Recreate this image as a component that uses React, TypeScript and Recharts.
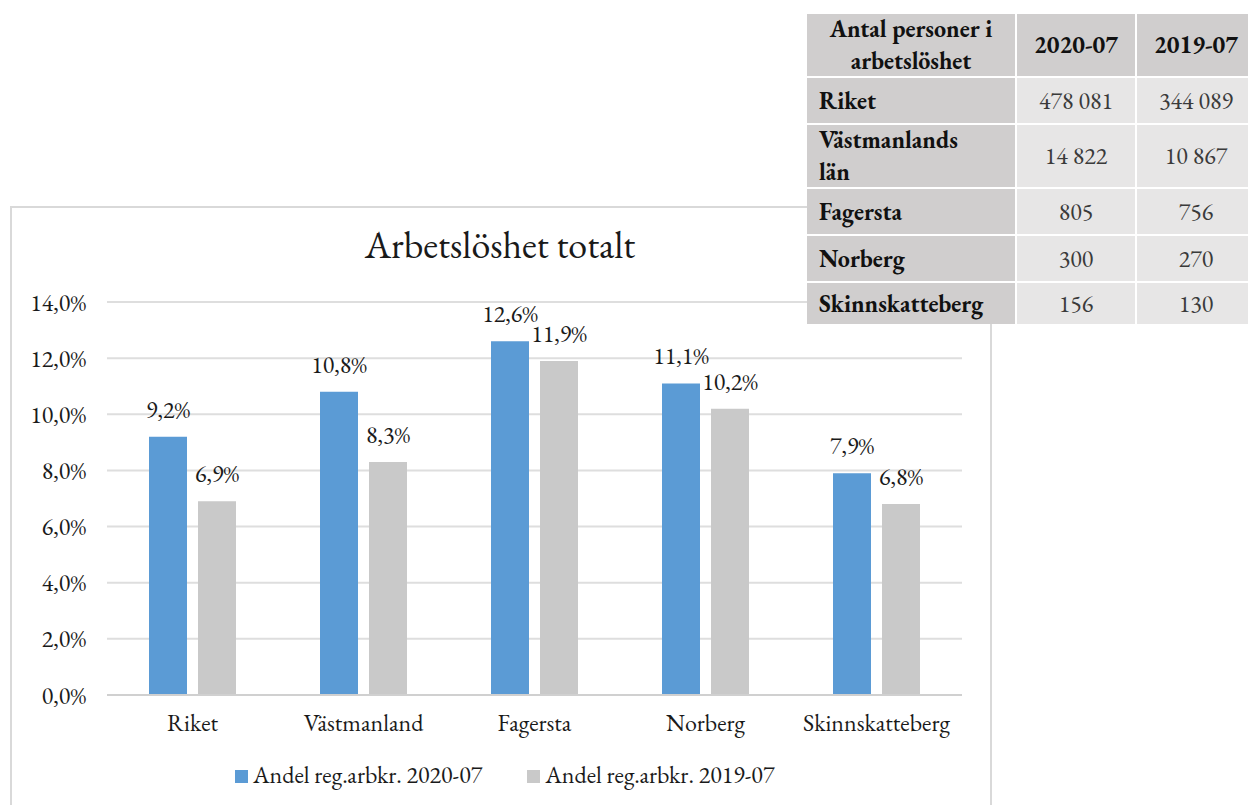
import React from "react";
import { BarChart, Bar, XAxis, YAxis, CartesianGrid, Legend, LabelList } from "recharts";

const categories = ["Riket", "Västmanland", "Fagersta", "Norberg", "Skinnskatteberg"];
const share2020 = [9.2, 10.8, 12.6, 11.1, 7.9];
const share2019 = [6.9, 8.3, 11.9, 10.2, 6.8];
const yTicks = [0, 2, 4, 6, 8, 10, 12, 14];
const seriesNames = ["Andel reg.arbkr. 2020-07", "Andel reg.arbkr. 2019-07"];

const tableHeader = ["Antal personer i\narbetslöshet", "2020-07", "2019-07"];
const tableRows = ["Riket", "Västmanlands\nlän", "Fagersta", "Norberg", "Skinnskatteberg"];
const persons2020 = ["478 081", "14 822", "805", "300", "156"];
const persons2019 = ["344 089", "10 867", "756", "270", "130"];

const data = categories.map((c, i) => ({ name: c, a: share2020[i], b: share2019[i] }));

const FONT = '"EB Garamond", "Liberation Serif", serif';
const BLUE = "#5b9bd5";
const GRAY = "#c9c9c9";
const TXT = "#1a1a1a";
const FS = 24;
const fmt = (v: number) => `${v.toFixed(1).replace(".", ",")}%`;

const LegendContent = () => (
  <div style={{ fontFamily: FONT, fontSize: FS, lineHeight: "26px", color: TXT, whiteSpace: "nowrap" }}>
    {seriesNames.map((n, i) => (
      <span key={n} style={{ marginRight: i === 0 ? 45 : 0 }}>
        <span
          style={{
            display: "inline-block",
            width: 13,
            height: 13,
            background: i === 0 ? BLUE : GRAY,
            marginRight: 5,
            verticalAlign: "baseline",
          }}
        />
        {n}
      </span>
    ))}
  </div>
);

const multiline = (s: string) =>
  s.split("\n").map((p, i, arr) => (
    <React.Fragment key={i}>
      {p}
      {i < arr.length - 1 ? <br /> : null}
    </React.Fragment>
  ));

const darkCell = "#d0cece";
const lightCell = "#e7e6e6";

export default function App() {
  const rowHeights = [62, 45, 62, 45, 45, 41];
  return (
    <div style={{ position: "absolute", left: 0, top: 0, width: 1248, height: 805, overflow: "hidden", background: "#fff" }}>
      <div
        style={{
          position: "absolute",
          left: 10,
          top: 206,
          width: 982,
          height: 700,
          border: "2px solid #d9d9d9",
          boxSizing: "border-box",
        }}
      />
      <div
        style={{
          position: "absolute",
          left: 300,
          width: 400,
          top: 226,
          textAlign: "center",
          fontFamily: FONT,
          fontSize: 38,
          lineHeight: "38px",
          color: TXT,
        }}
      >
        Arbetslöshet totalt
      </div>
      <div style={{ position: "absolute", left: 0, top: 0 }}>
        <BarChart
          width={1000}
          height={805}
          data={data}
          margin={{ top: 302, right: 38, left: 0, bottom: 40 }}
          barSize={38}
          barGap={11}
        >
          <CartesianGrid vertical={false} stroke="#dedede" strokeWidth={2} />
          <XAxis
            dataKey="name"
            height={30}
            tickLine={false}
            tickSize={0}
            tickMargin={19}
            axisLine={{ stroke: "#d0d0d0", strokeWidth: 2 }}
            tick={{ fontFamily: FONT, fontSize: FS, fill: TXT }}
            interval={0}
          />
          <YAxis
            width={107}
            domain={[0, 14]}
            ticks={yTicks}
            tickFormatter={fmt}
            axisLine={false}
            tickLine={false}
            tickSize={0}
            tickMargin={21}
            tick={{ fontFamily: FONT, fontSize: FS, fill: TXT }}
            interval={0}
          />
          <Legend
            height={40}
            content={<LegendContent />}
            wrapperStyle={{ left: 235, top: 762, width: 700, height: 40 }}
          />
          <Bar dataKey="a" name={seriesNames[0]} fill={BLUE} isAnimationActive={false}>
            <LabelList dataKey="a" position="top" offset={19} formatter={fmt} style={{ fontFamily: FONT, fontSize: FS, fill: TXT }} />
          </Bar>
          <Bar dataKey="b" name={seriesNames[1]} fill={GRAY} isAnimationActive={false}>
            <LabelList dataKey="b" position="top" offset={19} formatter={fmt} style={{ fontFamily: FONT, fontSize: FS, fill: TXT }} />
          </Bar>
        </BarChart>
      </div>
      <div
        style={{
          position: "absolute",
          left: 807,
          top: 14,
          display: "grid",
          gridTemplateColumns: "208px 118px 118px",
          gridTemplateRows: rowHeights.map((h) => `${h}px`).join(" "),
          columnGap: 2,
          rowGap: 2,
          fontFamily: FONT,
          fontSize: FS,
          lineHeight: "32px",
          background: "#fff",
        }}
      >
        {tableHeader.map((h, i) => (
          <div
            key={"h" + i}
            style={{
              background: darkCell,
              fontWeight: "bold",
              color: "#111",
              display: "flex",
              alignItems: "center",
              justifyContent: "center",
              textAlign: "center",
            }}
          >
            <div>{multiline(h)}</div>
          </div>
        ))}
        {tableRows.map((r, i) => (
          <React.Fragment key={r}>
            <div
              style={{
                background: darkCell,
                fontWeight: "bold",
                color: "#111",
                display: "flex",
                alignItems: "center",
                paddingLeft: 12,
              }}
            >
              <div>{multiline(r)}</div>
            </div>
            <div style={{ background: lightCell, color: "#3a3a3a", display: "flex", alignItems: "center", justifyContent: "center" }}>
              {persons2020[i]}
            </div>
            <div style={{ background: lightCell, color: "#3a3a3a", display: "flex", alignItems: "center", justifyContent: "center" }}>
              {persons2019[i]}
            </div>
          </React.Fragment>
        ))}
      </div>
    </div>
  );
}
